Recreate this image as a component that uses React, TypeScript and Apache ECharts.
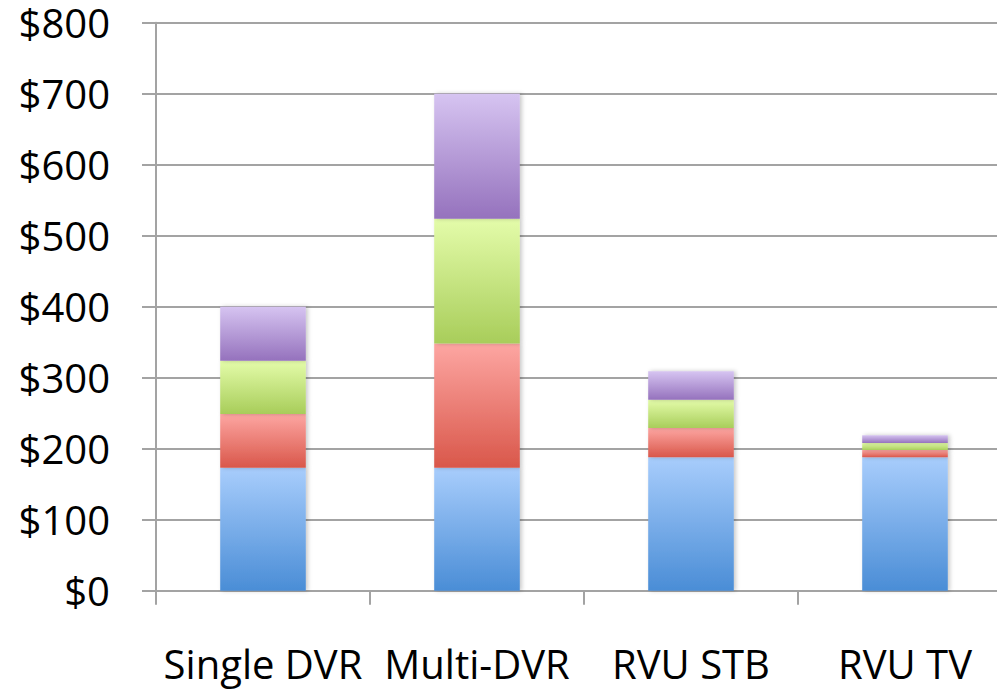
import React, { useEffect, useRef } from "react";
import * as echarts from "echarts";

const categories = ["Single DVR", "Multi-DVR", "RVU STB", "RVU TV"];
const blueValues = [173, 173, 188, 188];
const redValues = [76, 175, 41, 10];
const greenValues = [75, 176, 40, 10];
const purpleValues = [76, 176, 40, 11];
const yTicks = { min: 0, max: 800, interval: 100 };

const grad = (top: string, bottom: string) =>
  new echarts.graphic.LinearGradient(0, 0, 0, 1, [
    { offset: 0, color: top },
    { offset: 1, color: bottom },
  ]);

const FONT = "'Open Sans', 'Noto Sans', sans-serif";

export default function App() {
  const ref = useRef<HTMLDivElement>(null);
  useEffect(() => {
    if (!ref.current) return;
    const chart = echarts.init(ref.current, null, { renderer: "svg" });
    const mk = (name: string, data: number[], top: string, bottom: string) => ({
      name,
      type: "bar",
      stack: "total",
      data,
      barWidth: "40%",
      itemStyle: {
        color: grad(top, bottom),
        shadowColor: "rgba(0,0,0,0.22)",
        shadowBlur: 4,
        shadowOffsetX: 2,
        shadowOffsetY: 0,
      },
    });
    chart.setOption({
      animation: false,
      backgroundColor: "#ffffff",
      grid: {
        left: 156,
        right: -15,
        top: 22.7,
        bottom: 102.3,
        containLabel: false,
        outerBoundsMode: "none",
      },
      xAxis: {
        type: "category",
        data: categories,
        boundaryGap: true,
        axisLine: { show: true, lineStyle: { color: "#a3a3a3", width: 2 } },
        axisTick: { show: true, length: 14, lineStyle: { color: "#a3a3a3", width: 2 } },
        axisLabel: {
          color: "#000000",
          fontFamily: FONT,
          fontSize: 40,
          lineHeight: 40,
          margin: 53,
          interval: 0,
        },
      },
      yAxis: {
        type: "value",
        min: yTicks.min,
        max: yTicks.max,
        interval: yTicks.interval,
        axisLine: { show: true, lineStyle: { color: "#a3a3a3", width: 2 } },
        axisTick: { show: true, length: 14, lineStyle: { color: "#a3a3a3", width: 2 } },
        splitLine: { show: true, lineStyle: { color: "#a3a3a3", width: 2 } },
        axisLabel: {
          color: "#000000",
          fontFamily: FONT,
          fontSize: 40,
          lineHeight: 40,
          margin: 46,
          formatter: (v: number) => "$" + v,
        },
      },
      series: [
        mk("Blue", blueValues, "#a8cdfc", "#4a8dd6"),
        mk("Red", redValues, "#fda6a2", "#d9574a"),
        mk("Green", greenValues, "#e4fcaa", "#a8cd5a"),
        mk("Purple", purpleValues, "#d6c4f1", "#9572bd"),
      ],
    });
    return () => chart.dispose();
  }, []);
  return (
    <div
      ref={ref}
      style={{ position: "fixed", left: 0, top: 0, width: 997, height: 693, background: "#fff" }}
    />
  );
}
